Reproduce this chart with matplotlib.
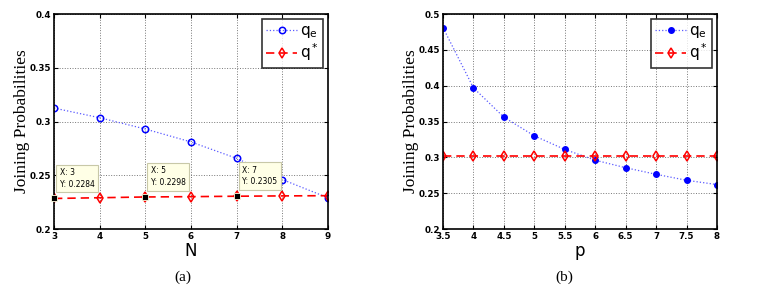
import matplotlib
matplotlib.use("Agg")
import matplotlib.pyplot as plt

# Panel (a)
N = [3, 4, 5, 6, 7, 8, 9]
qe_a = [0.3125, 0.3035, 0.293, 0.281, 0.2657, 0.246, 0.229]
qs_a = [0.2284, 0.2291, 0.2298, 0.2301, 0.2305, 0.2308, 0.2310]
tips_x = [3, 5, 7]
tips_y = [0.2284, 0.2298, 0.2305]

# Panel (b)
p = [3.5, 4, 4.5, 5, 5.5, 6, 6.5, 7, 7.5, 8]
qe_b = [0.481, 0.397, 0.356, 0.330, 0.311, 0.296, 0.2855, 0.2763, 0.268, 0.262]
qs_b = [0.3014] * 10

fig = plt.figure(figsize=(7.6, 2.93), dpi=100)
axA = fig.add_axes([0.0711, 0.2184, 0.3605, 0.7338])
axB = fig.add_axes([0.5829, 0.2184, 0.3605, 0.7338])

def style(ax):
    for s in ax.spines.values():
        s.set_linewidth(1.2)
    ax.grid(True, linestyle=':', color='#777777', linewidth=0.7)
    ax.tick_params(direction='in', length=3, width=0.8, top=True, right=True, pad=2)
    for lab in ax.get_xticklabels() + ax.get_yticklabels():
        lab.set_fontsize(6.3)
        lab.set_fontweight('bold')
    ax.set_ylabel('Joining Probabilities', family='Liberation Serif', fontsize=12.5, labelpad=0)

# (a)
axA.plot(N, qe_a, linestyle=':', color='#5a5aff', linewidth=0.9, marker='o', markersize=4.6,
         markerfacecolor='none', markeredgecolor='blue', markeredgewidth=1.1, label=r'$\mathregular{q_e}$')
axA.plot(N, qs_a, linestyle='--', color='red', linewidth=1.2, dashes=(5, 3), marker='d', markersize=4.6,
         markerfacecolor='none', markeredgecolor='red', markeredgewidth=1.1, label=r'$\mathregular{q^*}$')
axA.set_xlim(3, 9)
axA.set_ylim(0.2, 0.4)
axA.set_xticks(N)
axA.set_yticks([0.2, 0.25, 0.3, 0.35, 0.4])
axA.set_yticklabels(['0.2', '0.25', '0.3', '0.35', '0.4'])
axA.set_xlabel('N', fontsize=12, labelpad=1)
style(axA)
for tx, ty in zip(tips_x, tips_y):
    axA.plot([tx], [ty], marker='s', color='black', markersize=4.5, markeredgecolor='#ffffe0',
             markeredgewidth=0.6, clip_on=False, zorder=5)
    axA.annotate(f'X: {tx}\nY: {ty:.4f}', xy=(tx, ty), xytext=(4, 7), textcoords='offset points',
                 fontsize=5.5, va='bottom', ha='left', linespacing=1.4, zorder=6,
                 bbox=dict(boxstyle='square,pad=0.45', fc='#ffffe6', ec='#c8c8a8', lw=0.8))
legA = axA.legend(loc='upper right', fontsize=11, frameon=True, fancybox=False, edgecolor='black',
                  handlelength=2.0, handletextpad=0.2, borderpad=0.3, labelspacing=0.1,
                  borderaxespad=0.3)
legA.get_frame().set_linewidth(1.2)

# (b)
axB.plot(p, qe_b, linestyle=':', color='#5a5aff', linewidth=0.9, marker='o', markersize=4,
         markerfacecolor='blue', markeredgecolor='blue', label=r'$\mathregular{q_e}$')
axB.plot(p, qs_b, linestyle='--', color='red', linewidth=1.2, dashes=(5, 3), marker='d', markersize=4.6,
         markerfacecolor='none', markeredgecolor='red', markeredgewidth=1.1, label=r'$\mathregular{q^*}$')
axB.set_xlim(3.5, 8)
axB.set_ylim(0.2, 0.5)
axB.set_xticks(p)
axB.set_xticklabels(['3.5', '4', '4.5', '5', '5.5', '6', '6.5', '7', '7.5', '8'])
axB.set_yticks([0.2, 0.25, 0.3, 0.35, 0.4, 0.45, 0.5])
axB.set_yticklabels(['0.2', '0.25', '0.3', '0.35', '0.4', '0.45', '0.5'])
axB.set_xlabel('p', fontsize=12, labelpad=1)
style(axB)
legB = axB.legend(loc='upper right', fontsize=11, frameon=True, fancybox=False, edgecolor='black',
                  handlelength=2.0, handletextpad=0.2, borderpad=0.3, labelspacing=0.1,
                  borderaxespad=0.3)
legB.get_frame().set_linewidth(1.2)

fig.text(0.24, 0.04, '(a)', family='Liberation Serif', fontsize=11, ha='center')
fig.text(0.743, 0.04, '(b)', family='Liberation Serif', fontsize=11, ha='center')

fig.savefig('out.png', dpi=100)
